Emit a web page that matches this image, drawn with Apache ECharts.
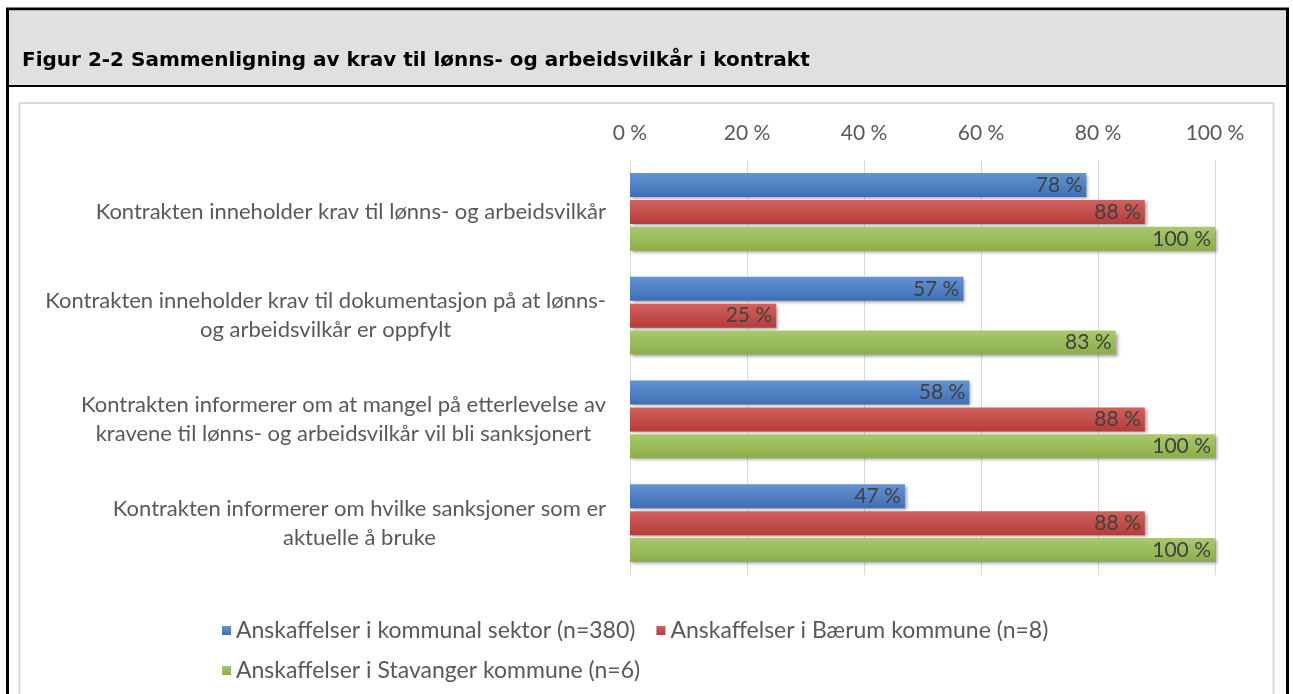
<!DOCTYPE html>
<html>
<head>
<meta charset="utf-8">
<script src="https://cdn.jsdelivr.net/npm/echarts@6/dist/echarts.min.js"></script>
<style>
  html, body { margin: 0; padding: 0; background: #fff; }
  #chart { width: 1293px; height: 694px; }
</style>
</head>
<body>
<div id="chart"></div>
<script>
// kategorier (ovenfra og ned)
const categories = [
  'Kontrakten inneholder krav til lønns- og arbeidsvilkår',
  'Kontrakten inneholder krav til dokumentasjon på at lønns-\nog arbeidsvilkår er oppfylt',
  'Kontrakten informerer om at mangel på etterlevelse av\nkravene til lønns- og arbeidsvilkår vil bli sanksjonert',
  'Kontrakten informerer om hvilke sanksjoner som er\naktuelle å bruke'
]
const seriesNames = [
  'Anskaffelser i kommunal sektor (n=380)',
  'Anskaffelser i Bærum kommune (n=8)',
  'Anskaffelser i Stavanger kommune (n=6)'
]
const kommunalSektor = [78, 57, 58, 47]
const baerum = [88, 25, 88, 88]
const stavanger = [100, 83, 100, 100]
const xTicks = [0, 20, 40, 60, 80, 100]

const labelFont = 'Lato, "Open Sans", sans-serif'

const chartInstance = echarts.init(document.getElementById('chart'))

const grad = (top, bottom) => new echarts.graphic.LinearGradient(0, 0, 0, 1, [
  { offset: 0, color: top },
  { offset: 1, color: bottom }
])

const makeSeries = (name, data, top, bottom) => ({
  name: name,
  type: 'bar',
  data: data,
  barWidth: 24,
  barGap: '12%',
  itemStyle: {
    color: grad(top, bottom),
    shadowBlur: 3,
    shadowOffsetX: 2,
    shadowOffsetY: 2,
    shadowColor: 'rgba(0,0,0,0.35)'
  },
  label: {
    show: true,
    position: 'insideRight',
    distance: 4,
    color: '#404040',
    fontFamily: labelFont,
    fontSize: 21,
    formatter: p => p.value + ' %'
  },
  emphasis: { disabled: true }
})

const legendText = { color: '#595959', fontFamily: labelFont, fontSize: 23 }

const option = {
  animation: false,
  title: {
    text: 'Figur 2-2 Sammenligning av krav til lønns- og arbeidsvilkår i kontrakt',
    left: 17,
    top: 46,
    textStyle: {
      fontFamily: '"DejaVu Sans", Arial, sans-serif',
      fontWeight: 'bold',
      fontSize: 20,
      color: '#000'
    }
  },
  graphic: [
    // ramme rundt figuren
    { type: 'rect', z: -10, shape: { x: 7.5, y: 9, width: 1280, height: 700 },
      style: { fill: '#fff', stroke: '#000', lineWidth: 3 } },
    { type: 'rect', z: -9, shape: { x: 9, y: 10.5, width: 1277, height: 75 },
      style: { fill: '#e0e0e0', stroke: null } },
    { type: 'line', z: -9, shape: { x1: 8, y1: 86, x2: 1287, y2: 86 },
      style: { stroke: '#000', lineWidth: 2 } },
    { type: 'rect', z: -8, shape: { x: 19.5, y: 103, width: 1254, height: 620 },
      style: { fill: '#fff', stroke: '#d9d9d9', lineWidth: 2 } }
  ],
  legend: [
    {
      data: seriesNames.slice(0, 2),
      left: 217,
      top: 614,
      icon: 'rect',
      itemWidth: 9,
      itemHeight: 9,
      itemGap: 21,
      selectedMode: false,
      textStyle: legendText
    },
    {
      data: seriesNames.slice(2),
      left: 217,
      top: 654,
      icon: 'rect',
      itemWidth: 9,
      itemHeight: 9,
      selectedMode: false,
      textStyle: legendText
    }
  ],
  grid: {
    left: 630,
    right: 78,
    top: 160,
    bottom: 119,
    containLabel: false
  },
  xAxis: {
    type: 'value',
    position: 'top',
    min: xTicks[0],
    max: xTicks[xTicks.length - 1],
    interval: 20,
    axisLine: { show: false },
    axisTick: { show: false },
    axisLabel: {
      margin: 16,
      color: '#595959',
      fontFamily: labelFont,
      fontSize: 21,
      formatter: v => v + ' %'
    },
    splitLine: { lineStyle: { color: '#d9d9d9', width: 1 } }
  },
  yAxis: {
    type: 'category',
    inverse: true,
    data: categories,
    axisLine: { show: false },
    axisTick: { show: false },
    axisLabel: {
      margin: 24,
      formatter: v => v.split('\n').map(s => '{c|' + s + '}').join('\n'),
      rich: {
        c: {
          align: 'center',
          color: '#595959',
          fontFamily: labelFont,
          fontSize: 22,
          lineHeight: 29
        }
      }
    }
  },
  series: [
    makeSeries(seriesNames[0], kommunalSektor, '#6593d2', '#3d70b3'),
    makeSeries(seriesNames[1], baerum, '#d0625f', '#b73b38'),
    makeSeries(seriesNames[2], stavanger, '#a9c96c', '#8cae48')
  ]
}

chartInstance.setOption(option)
</script>
</body>
</html>
